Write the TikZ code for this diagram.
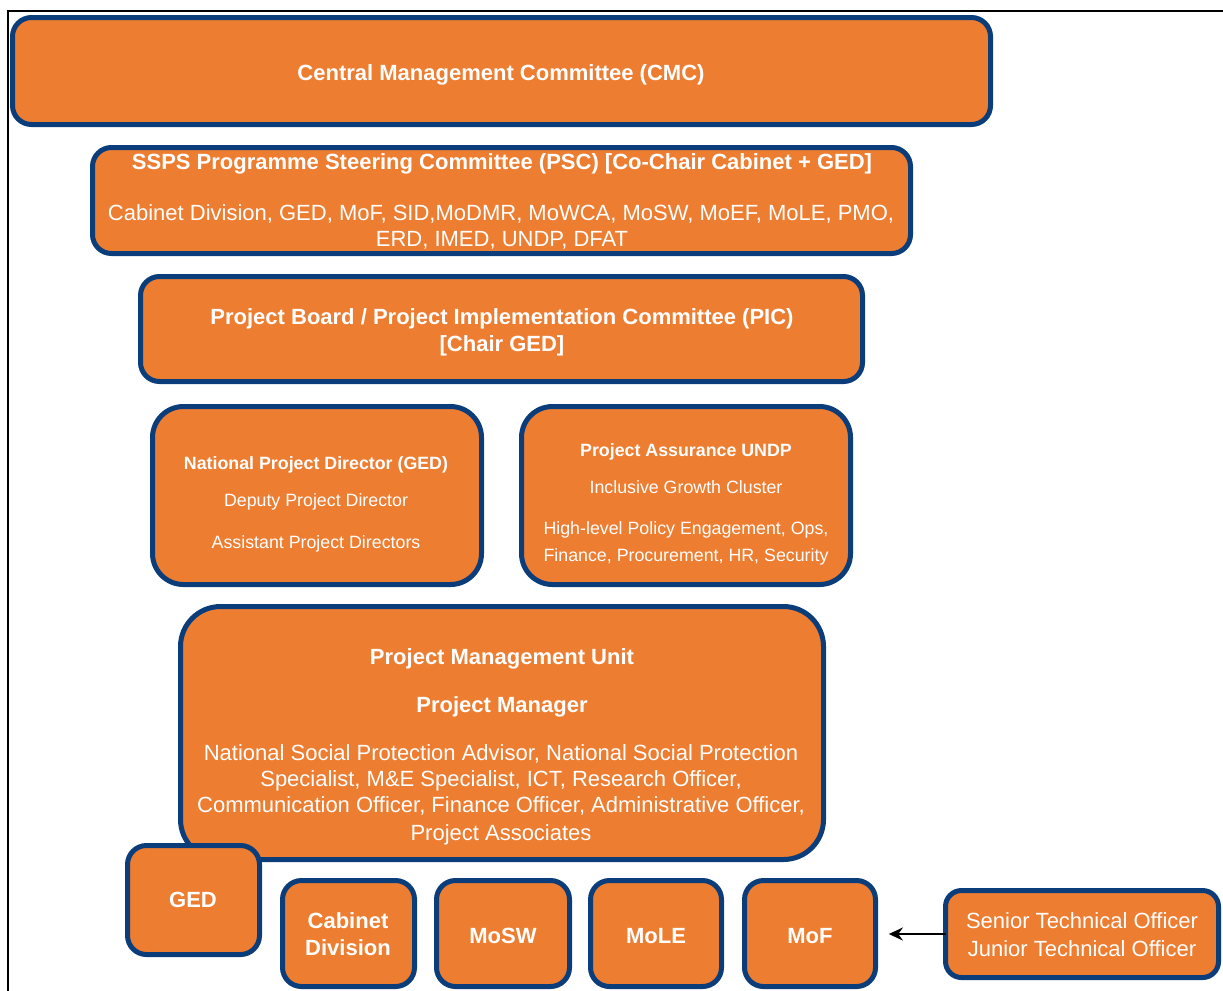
\documentclass[tikz,border=0pt]{standalone}
\usepackage{fontspec}
\setmainfont{Liberation Sans}
\usetikzlibrary{arrows.meta}
\definecolor{orng}{HTML}{ED7D31}
\definecolor{navy}{HTML}{0A3D7A}
\tikzset{
  obox/.style={draw=navy, fill=orng, line width=3.75pt, inner sep=0pt, outer sep=0pt},
  bigb/.style={text=white, font=\fontsize{16.5}{20}\selectfont\bfseries, anchor=base, inner sep=0pt},
  bigr/.style={text=white, font=\fontsize{16.5}{20}\selectfont, anchor=base, inner sep=0pt},
  smlb/.style={text=white, font=\fontsize{13.35}{16}\selectfont\bfseries, anchor=base, inner sep=0pt},
  smlr/.style={text=white, font=\fontsize{13.35}{16}\selectfont, anchor=base, inner sep=0pt},
  conn/.style={draw=black, line width=1.5pt, -{Stealth[length=10.5pt,width=9.75pt]}},
  frameline/.style={draw=black, line width=1.5pt}
}
% name, x1, y1, x2, y2 (outer edges, px), corner radius (px)
\newcommand\mybox[6]{%
  \pgfmathsetmacro\bw{(#4-#2-5)*0.75}%
  \pgfmathsetmacro\bh{(#5-#3-5)*0.75}%
  \pgfmathsetmacro\rr{#6*0.75}%
  \node[obox, minimum width=\bw pt, minimum height=\bh pt, rounded corners=\rr pt] (#1) at ({(#2+#4)/2},{(#3+#5)/2}) {};%
}
\begin{document}
\begin{tikzpicture}[x=0.75pt, y=-0.75pt]
\useasboundingbox (0,0) rectangle (1223,990);
% outer frame
\draw[frameline] (8,995) -- (8,11) -- (1230,11);

% boxes
\mybox{cmc}{10}{15}{993}{127}{19}
\mybox{psc}{90}{145}{913}{256}{19}
\mybox{pic}{138}{274}{865}{384}{19}
\mybox{npd}{150}{404}{484}{587}{31}
\mybox{pa}{519}{404}{853}{587}{31}
\mybox{pmu}{178}{604}{826}{862}{40}
\mybox{ged}{125}{843}{262}{957}{19}
\mybox{cab}{280}{878}{417}{989}{19}
\mybox{mosw}{434}{878}{572}{989}{19}
\mybox{mole}{588}{878}{724}{989}{19}
\mybox{mof}{742}{878}{878}{989}{19}
\mybox{sto}{943}{888}{1221}{980}{16}

% texts
\node[bigb] (cmc-t) at (501,80) {Central Management Committee (CMC)};
\node[bigb] (psc-t1) at (502,169) {SSPS Programme Steering Committee (PSC) [Co-Chair Cabinet + GED]};
\node[bigr] (psc-t2) at (501,220) {Cabinet Division, GED, MoF, SID,MoDMR, MoWCA, MoSW, MoEF, MoLE, PMO,};
\node[bigr] (psc-t3) at (502,246) {ERD, IMED, UNDP, DFAT};
\node[bigb] (pic-t1) at (502,324) {Project Board / Project Implementation Committee (PIC)};
\node[bigb] (pic-t2) at (502,351) {[Chair GED]};
\node[smlb] (npd-t1) at (316,469) {National Project Director (GED)};
\node[smlr] (npd-t2) at (316,506) {Deputy Project Director};
\node[smlr] (npd-t3) at (316,548) {Assistant Project Directors};
\node[smlb] (pa-t1) at (686,456) {Project Assurance UNDP};
\node[smlr] (pa-t2) at (686,493) {Inclusive Growth Cluster};
\node[smlr] (pa-t3) at (686,534) {High-level Policy Engagement, Ops,};
\node[smlr] (pa-t4) at (686,561) {Finance, Procurement, HR, Security};
\node[bigb] (pmu-t1) at (502,664) {Project Management Unit};
\node[bigb] (pmu-t2) at (502,712) {Project Manager};
\node[bigr] (pmu-t3) at (501,760) {National Social Protection Advisor, National Social Protection};
\node[bigr] (pmu-t4) at (501,786) {Specialist, M\&E Specialist, ICT, Research Officer,};
\node[bigr] (pmu-t5) at (501,812) {Communication Officer, Finance Officer, Administrative Officer,};
\node[bigr] (pmu-t6) at (501,840) {Project Associates};
\node[bigb] (ged-t) at (193,907) {GED};
\node[bigb] (cab-t1) at (348,928) {Cabinet};
\node[bigb] (cab-t2) at (348,955) {Division};
\node[bigb] (mosw-t) at (503,943) {MoSW};
\node[bigb] (mole-t) at (656,943) {MoLE};
\node[bigb] (mof-t) at (810,943) {MoF};
\node[bigr] (sto-t1) at (1082,928) {Senior Technical Officer};
\node[bigr] (sto-t2) at (1082,956) {Junior Technical Officer};

% connector
\draw[conn, shorten >=10pt] (sto.west) -- (sto.west -| mof.east);
\end{tikzpicture}
\end{document}
